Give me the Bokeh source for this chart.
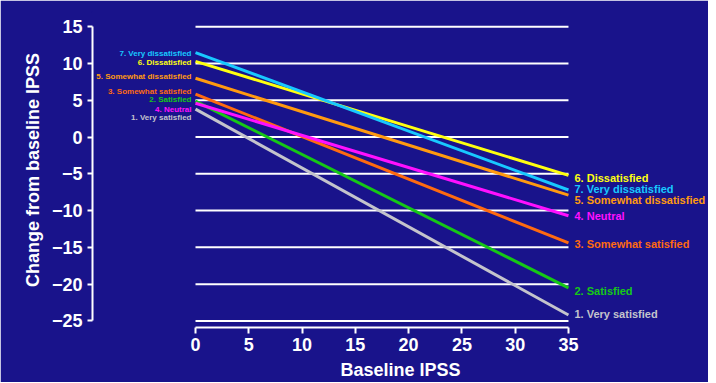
from bokeh.plotting import figure
from bokeh.models import Range1d, FixedTicker, ColumnDataSource
from bokeh.core.properties import value
from bokeh.embed import file_html
from bokeh.resources import INLINE

# ---- data ----
x_ticks = [0, 5, 10, 15, 20, 25, 30, 35]
y_ticks = [-25, -20, -15, -10, -5, 0, 5, 10, 15]

groups = ["1. Very satisfied", "2. Satisfied", "3. Somewhat satisfied", "4. Neutral",
          "5. Somewhat dissatisfied", "6. Dissatisfied", "7. Very dissatisfied"]
start_vals = [3.8, 4.9, 5.85, 4.6, 8.0, 10.3, 11.5]      # change at baseline IPSS 0
end_vals = [-24.2, -20.5, -14.4, -10.7, -7.9, -5.2, -7.2]  # change at baseline IPSS 35
left_label_y = [2.67, 5.07, 6.25, 3.75, 8.3, 10.15, 11.4]
right_label_y = [-24.0, -20.9, -14.6, -10.8, -8.5, -5.63, -7.0]
colors = ["#c4c4cc", "#16c816", "#ff6a10", "#ff10ff", "#ff9a10", "#ffff10", "#18c8ff"]

BG = "#19138b"
FONT = value("Liberation Sans")

p = figure(width=708, height=382, output_backend="svg", toolbar_location=None,
           x_range=Range1d(-9.665, 48.14), y_range=Range1d(-25.9, 16.95),
           min_border_left=92, min_border_right=0, min_border_top=12, min_border_bottom=55,
           background_fill_color=BG, border_fill_color=BG,
           outline_line_color=BG, outline_line_width=3)
p.grid.visible = False

# horizontal reference lines
p.segment(x0=[x_ticks[0]] * len(y_ticks), x1=[x_ticks[-1]] * len(y_ticks),
          y0=y_ticks, y1=y_ticks, line_color="white", line_width=2)

# regression lines
src = ColumnDataSource(dict(
    xs=[[x_ticks[0], x_ticks[-1]] for _ in groups],
    ys=[[s, e] for s, e in zip(start_vals, end_vals)],
    color=colors))
p.multi_line(xs="xs", ys="ys", line_color="color", line_width=3, source=src)

# labels
lsrc = ColumnDataSource(dict(x=[x_ticks[0]] * len(groups), y=left_label_y, text=groups, color=colors))
p.text(x="x", y="y", text="text", text_color="color", source=lsrc, text_align="right",
       text_baseline="middle", x_offset=-4, text_font=FONT, text_font_style="bold",
       text_font_size="8px")
rsrc = ColumnDataSource(dict(x=[x_ticks[-1]] * len(groups), y=right_label_y, text=groups, color=colors))
p.text(x="x", y="y", text="text", text_color="color", source=rsrc, text_align="left",
       text_baseline="middle", x_offset=6, text_font=FONT, text_font_style="bold",
       text_font_size="11px")

for ax, ticks in ((p.xaxis[0], x_ticks), (p.yaxis[0], y_ticks)):
    ax.ticker = FixedTicker(ticks=ticks)
    ax.bounds = (ticks[0], ticks[-1])
    ax.axis_line_color = "white"
    ax.axis_line_width = 2
    ax.major_tick_line_color = "white"
    ax.major_tick_line_width = 2
    ax.major_tick_in = 0
    ax.minor_tick_line_color = None
    ax.major_label_text_color = "white"
    ax.major_label_text_font = "Liberation Sans"
    ax.major_label_text_font_style = "bold"
    ax.major_label_text_font_size = "18px"
    ax.axis_label_text_color = "white"
    ax.axis_label_text_font = "Liberation Sans"
    ax.axis_label_text_font_style = "bold"
    ax.axis_label_text_font_size = "18px"

p.xaxis.axis_label = "Baseline IPSS"
p.xaxis.major_tick_out = 6
p.xaxis.major_label_standoff = 4
p.xaxis.axis_label_standoff = 6
p.yaxis.axis_label = "Change from baseline IPSS"
p.yaxis.major_tick_out = 5
p.yaxis.major_label_standoff = 5
p.yaxis.axis_label_standoff = 6

html = file_html(p, INLINE)
html = html.replace("<body>", '<body style="background-color:%s;">' % BG, 1)
open("out.html", "w").write(html)
